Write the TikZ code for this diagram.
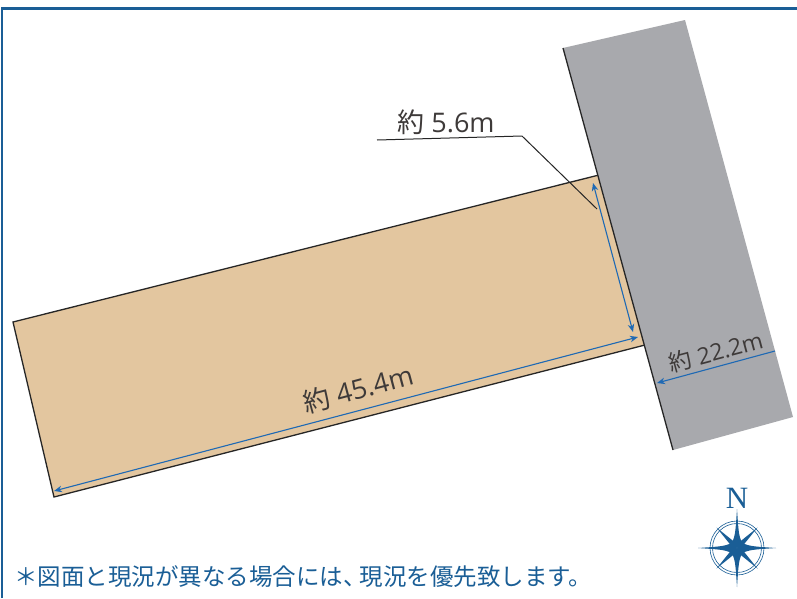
\documentclass[tikz,border=0pt]{standalone}
\usepackage{fontspec}
\setmainfont{Open Sans}
\newfontfamily\jpfont{Noto Sans CJK JP}
\newfontfamily\nfont{Liberation Serif}
\usetikzlibrary{arrows.meta,calc}
\definecolor{navy}{HTML}{1A5E96}
\definecolor{dimblue}{HTML}{1E69B4}
\definecolor{tan}{HTML}{E3C69F}
\definecolor{road}{HTML}{A8A9AD}
\definecolor{ink}{HTML}{3E3A39}
\tikzset{
  dimline/.style={draw=dimblue,line width=1.1pt,{Stealth[length=8pt,width=6.5pt]}-{Stealth[length=8pt,width=6.5pt]}},
  dimend/.style={draw=dimblue,line width=1.1pt,-{Stealth[length=8pt,width=6.5pt]}},
  dimtext/.style={text=ink,font=\fontsize{27}{27}\selectfont,inner sep=0pt},
  plot/.style={fill=tan,draw=black!85,line width=1.3pt},
  leaderline/.style={draw=black!85,line width=1pt},
  star/.style={fill=navy,draw=none}
}
\begin{document}
\begin{tikzpicture}[x=1pt,y=-1pt]
\useasboundingbox (0,0) rectangle (797,598);
\fill[white] (0,0) rectangle (797,598);
% frame
\draw[navy,line width=2.8pt] (2,598) -- (2,8.5) -- (797,8.5);
% plot
\draw[plot] (13,322) -- (599,175) -- (645,345) -- (54,497) -- cycle;
% road
\fill[road] (563,48) -- (685,20) -- (793,417) -- (673,450) -- cycle;
\draw[black!85,line width=1.3pt] (563,48) -- (673,450);
% leader
\coordinate (la) at (377,140);
\coordinate (lb) at (522,136);
\coordinate (lc) at (597,209);
\draw[leaderline] (la) -- (lb) -- (lc);
% dimensions
\coordinate (a1) at (593,183);
\coordinate (a2) at (633,332);
\draw[dimline] (a1) -- (a2);
\coordinate (b1) at (54,491);
\coordinate (b2) at (638,337);
\draw[dimline] (b1) -- (b2);
\coordinate (c1) at (775,351);
\coordinate (c2) at (657,383);
\draw[dimend] (c1) -- (c2);
% labels
\node[dimtext] (t1) at (446,122) {{\jpfont 約} 5.6m};
\node[dimtext,rotate=15] (t2) at (358,389) {{\jpfont 約} 45.4m};
\node[dimtext,rotate=15,font=\fontsize{23}{23}\selectfont] (t3) at (716,352) {{\jpfont 約} 22.2m};
\node[anchor=base west,text=navy,inner sep=0pt,font=\jpfont\fontsize{23.5}{24}\selectfont] (note) at (14,585) {＊図面と現況が異なる場合には、\kern-7pt 現況を優先致します。};
% compass
\node[text=navy,inner sep=0pt,font=\nfont\fontsize{31}{31}\selectfont] (north) at (737,498) {N};
\coordinate (cc) at (737,548);
\draw[navy,line width=0.6pt] (cc) circle (27);
\draw[navy,line width=0.6pt] (cc) circle (24.5);
\foreach \a in {45,135,225,315}{
  \fill[star] (cc) -- ($(cc)+(\a-25:6)$) -- ($(cc)+(\a:29)$) -- ($(cc)+(\a+25:6)$) -- cycle;
}
\foreach \a in {0,90,180,270}{
  \fill[star] (cc) -- ($(cc)+(\a-45:7)$) .. controls ($(cc)+(\a-7:14)$) .. ($(cc)+(\a:39)$) .. controls ($(cc)+(\a+7:14)$) .. ($(cc)+(\a+45:7)$) -- cycle;
}
\end{tikzpicture}
\end{document}
